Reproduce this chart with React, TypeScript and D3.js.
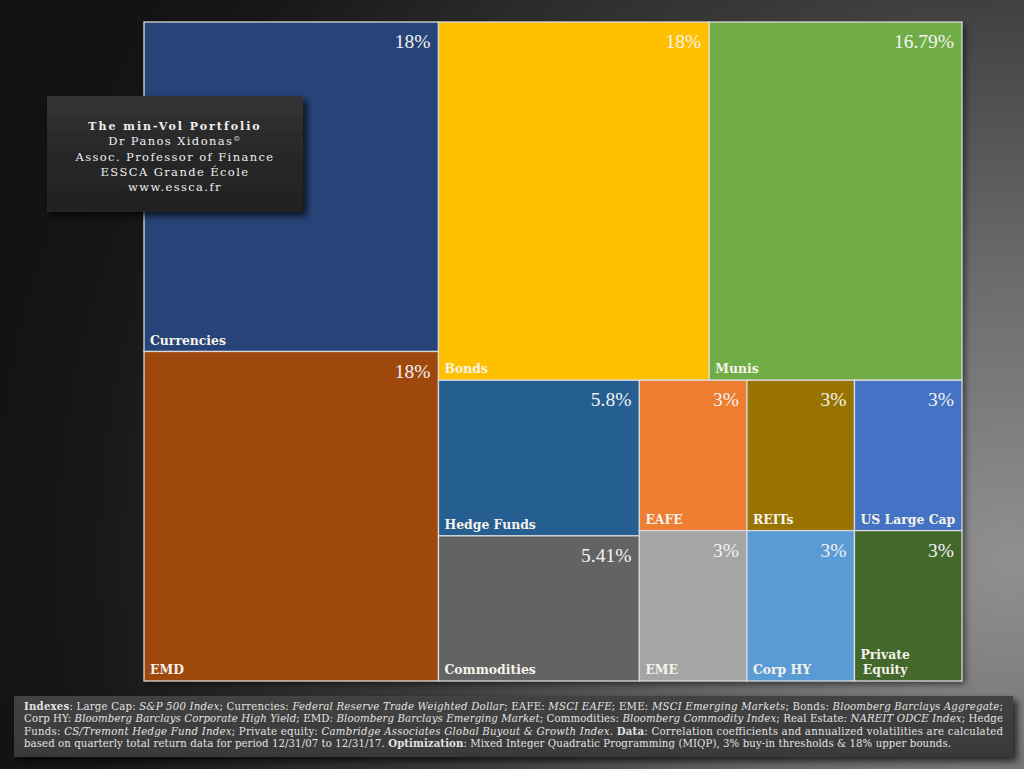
import React from 'react';
import * as d3 from 'd3';

const categories = ['Currencies', 'EMD', 'Bonds', 'Munis', 'Hedge Funds', 'Commodities', 'EAFE', 'EME', 'REITs', 'US Large Cap', 'Corp HY', 'Private Equity'];
const weights = [18, 18, 18, 16.79, 5.8, 5.41, 3, 3, 3, 3, 3, 3];
const weightLabels = ['18%', '18%', '18%', '16.79%', '5.8%', '5.41%', '3%', '3%', '3%', '3%', '3%', '3%'];
const colors = ['#264478', '#9E480E', '#FFC000', '#70AD47', '#255E91', '#636363', '#ED7D31', '#A5A5A5', '#997300', '#4472C4', '#5B9BD5', '#43682B'];

const titleLines = ['The min-Vol Portfolio', 'Dr Panos Xidonas', 'Assoc. Professor of Finance', 'ESSCA Grande École', 'www.essca.fr'];

type Seg = { t: string; s?: 'b' | 'i' };
const footerLine1: Seg[] = [
  { t: 'Indexes', s: 'b' }, { t: ': Large Cap: ' }, { t: 'S&P 500 Index', s: 'i' }, { t: '; Currencies: ' },
  { t: 'Federal Reserve Trade Weighted Dollar', s: 'i' }, { t: '; EAFE: ' }, { t: 'MSCI EAFE', s: 'i' }, { t: '; EME: ' },
  { t: 'MSCI Emerging Markets', s: 'i' }, { t: '; Bonds: ' }, { t: 'Bloomberg Barclays Aggregate', s: 'i' }, { t: ';' },
];
const footerLine2: Seg[] = [
  { t: 'Corp HY: ' }, { t: 'Bloomberg Barclays Corporate High Yield', s: 'i' }, { t: '; EMD: ' },
  { t: 'Bloomberg Barclays Emerging Market', s: 'i' }, { t: '; Commodities: ' }, { t: 'Bloomberg Commodity Index', s: 'i' },
  { t: '; Real Estate: ' }, { t: 'NAREIT ODCE Index', s: 'i' }, { t: '; Hedge' },
];
const footerLine3: Seg[] = [
  { t: 'Funds: ' }, { t: 'CS/Tremont Hedge Fund Index', s: 'i' }, { t: '; Private equity: ' },
  { t: 'Cambridge Associates Global Buyout & Growth Index', s: 'i' }, { t: '. ' }, { t: 'Data', s: 'b' },
  { t: ': Correlation coefficients and annualized volatilities are calculated' },
];
const footerLine4: Seg[] = [
  { t: 'based on quarterly total return data for period 12/31/07 to 12/31/17. ' }, { t: 'Optimization', s: 'b' },
  { t: ': Mixed Integer Quadratic Programming (MIQP), 3% buy-in thresholds & 18% upper bounds.' },
];
const footerLines = [footerLine1, footerLine2, footerLine3, footerLine4];

const W = 1024, H = 769;
const TM = { x0: 144, y0: 22, x1: 962, y1: 681 };
const LABEL_SIZE = 12.4;
const LABEL_FONT = `bold ${LABEL_SIZE}px "DejaVu Serif"`;

let ctx: CanvasRenderingContext2D | null = null;
function measure(text: string, font: string): number {
  if (!ctx) ctx = document.createElement('canvas').getContext('2d');
  if (!ctx) return text.length * 8;
  ctx.font = font;
  return ctx.measureText(text).width;
}

export default function App() {
  const root = d3.hierarchy<any>({ children: categories.map((c, i) => ({ name: c, value: weights[i], label: weightLabels[i], color: colors[i] })) })
    .sum((d: any) => d.value || 0);
  d3.treemap<any>().tile(d3.treemapSquarify.ratio(1)).size([TM.x1 - TM.x0, TM.y1 - TM.y0])(root);
  const leaves = root.leaves() as any[];

  return (
    <svg width={W} height={H} style={{ position: 'absolute', left: 0, top: 0, display: 'block' }}>
      <defs>
        <radialGradient id="bg" gradientUnits="userSpaceOnUse" cx={1010} cy={560} r={1050}>
          <stop offset="0" stopColor="#909090" />
          <stop offset="0.28" stopColor="#6a6a6a" />
          <stop offset="0.58" stopColor="#383838" />
          <stop offset="0.88" stopColor="#171717" />
          <stop offset="1" stopColor="#121212" />
        </radialGradient>
        <linearGradient id="titleBg" x1="0" y1="0" x2="0" y2="1">
          <stop offset="0" stopColor="#333333" />
          <stop offset="0.5" stopColor="#282828" />
          <stop offset="1" stopColor="#222222" />
        </linearGradient>
        <linearGradient id="footBg" x1="0" y1="0" x2="0" y2="1">
          <stop offset="0" stopColor="#424242" />
          <stop offset="1" stopColor="#393939" />
        </linearGradient>
        <filter id="shadow" x="-10%" y="-10%" width="130%" height="130%">
          <feDropShadow dx="4" dy="4" stdDeviation="3.5" floodColor="#000" floodOpacity="0.7" />
        </filter>
        <filter id="shadow2" x="-5%" y="-5%" width="112%" height="115%">
          <feDropShadow dx="3" dy="3" stdDeviation="3" floodColor="#000" floodOpacity="0.55" />
        </filter>
      </defs>
      <rect x={0} y={0} width={W} height={H} fill="url(#bg)" />

      <g transform={`translate(${TM.x0},${TM.y0})`}>
        <rect x={0} y={0} width={TM.x1 - TM.x0} height={TM.y1 - TM.y0} fill="#888" filter="url(#shadow2)" />
        {leaves.map((d, i) => {
          const w = d.x1 - d.x0;
          const name: string = d.data.name;
          const maxW = w - 11;
          let lines: string[] = [name];
          if (measure(name, LABEL_FONT) > maxW) {
            lines = [];
            let cur = '';
            name.split(' ').forEach((word) => {
              const test = cur ? cur + ' ' + word : word;
              if (cur && measure(test, LABEL_FONT) > maxW) { lines.push(cur); cur = word; } else cur = test;
            });
            if (cur) lines.push(cur);
          }
          const multi = lines.length > 1;
          const maxLineW = Math.max(...lines.map((l) => measure(l, LABEL_FONT)));
          const lx = multi ? d.x0 + 6 + maxLineW / 2 : d.x0 + 6;
          return (
            <g key={i}>
              <rect x={d.x0} y={d.y0} width={w} height={d.y1 - d.y0} fill={d.data.color} stroke="#d9d9d9" strokeWidth={1.3} />
              <text x={d.x1 - 8} y={d.y0 + 26} textAnchor="end" fontFamily='"Liberation Serif", serif' fontSize={19.5} fill="#f3f3f3">
                {d.data.label}
              </text>
              <text textAnchor={multi ? 'middle' : 'start'} fontFamily='"DejaVu Serif", serif' fontWeight="bold" fontSize={LABEL_SIZE} fill="#f6f3ea">
                {lines.map((l, j) => (
                  <tspan key={j} x={lx} y={d.y1 - 7 - (lines.length - 1 - j) * 15}>{l}</tspan>
                ))}
              </text>
            </g>
          );
        })}
      </g>

      <g>
        <rect x={47} y={96} width={256} height={116} fill="url(#titleBg)" filter="url(#shadow)" />
        {titleLines.map((t, i) => (
          <text key={i} x={175} y={130 + i * 15.3} textAnchor="middle" fill="#eeeeee"
            fontFamily='"DejaVu Serif", serif' fontWeight={i === 0 ? 'bold' : 'normal'} fontSize={i === 0 ? 11 : 11.5} letterSpacing={i === 0 ? 2 : 1.4}>
            {t}
            {i === 1 ? <tspan fontSize={7} dy={-4}>©</tspan> : null}
          </text>
        ))}
      </g>

      <g>
        <rect x={14} y={696} width={999} height={61} fill="url(#footBg)" filter="url(#shadow)" />
        {footerLines.map((line, i) => (
          <text key={i} x={24} y={709.5 + i * 12.5} fill="#e2e2e2" fontFamily='"DejaVu Serif", serif' fontSize={10.2}
            textLength={i < 3 ? 979 : 927} lengthAdjust="spacing">
            {line.map((s, j) => (
              <tspan key={j} fontWeight={s.s === 'b' ? 'bold' : 'normal'} fontStyle={s.s === 'i' ? 'italic' : 'normal'}>{s.t}</tspan>
            ))}
          </text>
        ))}
      </g>
    </svg>
  );
}
